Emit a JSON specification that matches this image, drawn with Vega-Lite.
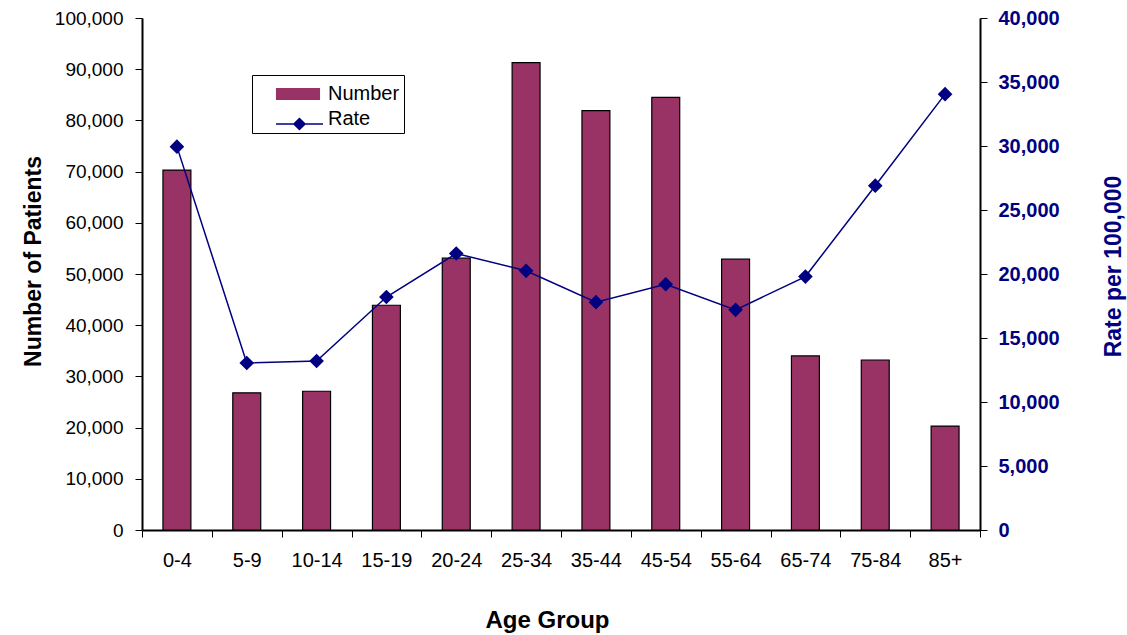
{
  "$schema": "https://vega.github.io/schema/vega-lite/v6.json",
  "width": 838,
  "height": 512,
  "autosize": {"type": "none"},
  "padding": {"left": 142, "top": 18, "right": 147, "bottom": 105},
  "background": "white",
  "config": {
    "view": {"stroke": null},
    "font": "Liberation Sans",
    "axis": {
      "grid": false,
      "domainColor": "black",
      "tickColor": "black",
      "labelColor": "black",
      "labelFont": "Liberation Sans",
      "titleFont": "Liberation Sans",
      "domainWidth": 2,
      "tickWidth": 1
    },
    "legend": {"labelFont": "Liberation Sans"}
  },
  "data": {
    "values": [
      {"age": "0-4", "number": 70300, "rate": 29950},
      {"age": "5-9", "number": 26800, "rate": 13050},
      {"age": "10-14", "number": 27100, "rate": 13200},
      {"age": "15-19", "number": 43900, "rate": 18200},
      {"age": "20-24", "number": 53100, "rate": 21600},
      {"age": "25-34", "number": 91300, "rate": 20250},
      {"age": "35-44", "number": 81900, "rate": 17800},
      {"age": "45-54", "number": 84500, "rate": 19200},
      {"age": "55-64", "number": 52900, "rate": 17200},
      {"age": "65-74", "number": 34000, "rate": 19800},
      {"age": "75-84", "number": 33200, "rate": 26900},
      {"age": "85+", "number": 20300, "rate": 34050}
    ]
  },
  "layer": [
    {
      "mark": {"type": "bar", "stroke": "black", "strokeWidth": 1.2, "width": {"band": 0.4}},
      "encoding": {
        "x": {
          "field": "age",
          "type": "ordinal",
          "sort": null,
          "scale": {"paddingInner": 0, "paddingOuter": 0},
          "axis": {
            "title": "Age Group",
            "labelAngle": 0,
            "labelFontSize": 20,
            "labelPadding": 13,
            "tickSize": 7,
            "tickBand": "extent",
            "titleFontSize": 24,
            "titleFontWeight": "bold",
            "titleX": 405,
            "titleY": 90,
            "titleAnchor": null,
            "titleAlign": "center",
            "titleBaseline": "middle"
          }
        },
        "y": {
          "field": "number",
          "type": "quantitative",
          "scale": {"domain": [0, 100000], "nice": false},
          "axis": {
            "title": "Number of Patients",
            "values": [0, 10000, 20000, 30000, 40000, 50000, 60000, 70000, 80000, 90000, 100000],
            "format": ",d",
            "labelFontSize": 19,
            "labelPadding": 12,
            "tickSize": 7,
            "titleFontSize": 23,
            "titleFontWeight": "bold",
            "titleAngle": -90,
            "titleX": -109,
            "titleY": 243,
            "titleAlign": "center",
            "titleBaseline": "middle"
          }
        },
        "fill": {
          "datum": "Number",
          "type": "nominal",
          "scale": {"domain": ["Number", "Rate"], "range": ["#993366", "rgba(0,0,0,0)"]},
          "legend": {
            "title": null,
            "orient": "none",
            "legendX": 110,
            "legendY": 57,
            "strokeColor": "black",
            "fillColor": null,
            "padding": 4,
            "symbolSize": 900,
            "symbolType": "M0.33,-0.4H3.27V0.4H0.33Z",
            "symbolStrokeWidth": 0,
            "symbolOpacity": 1,
            "rowPadding": -1,
            "labelFontSize": 20,
            "labelColor": "black",
            "labelOffset": 42,
            "labelExpr": "datum.label + '\u00a0\u00a0\u00a0'"
          }
        }
      }
    },
    {
      "mark": {
        "type": "line",
        "strokeWidth": 1.5,
        "point": {"filled": true, "shape": "diamond", "size": 140, "fill": "#000080"}
      },
      "encoding": {
        "x": {"field": "age", "type": "ordinal", "sort": null},
        "y": {
          "field": "rate",
          "type": "quantitative",
          "scale": {"domain": [0, 40000], "nice": false},
          "axis": {
            "orient": "right",
            "title": "Rate per 100,000",
            "values": [0, 5000, 10000, 15000, 20000, 25000, 30000, 35000, 40000],
            "format": ",d",
            "labelFontSize": 20,
            "labelFontWeight": "bold",
            "labelColor": "#000080",
            "labelPadding": 11,
            "tickSize": 7,
            "titleFontSize": 23,
            "titleFontWeight": "bold",
            "titleColor": "#000080",
            "titleAngle": -90,
            "titleX": 133,
            "titleY": 248,
            "titleAlign": "center",
            "titleBaseline": "middle"
          }
        },
        "stroke": {
          "datum": "Rate",
          "type": "nominal",
          "scale": {"domain": ["Rate"], "range": ["#000080"]},
          "legend": {
            "title": null,
            "orient": "none",
            "legendX": 110,
            "legendY": 86,
            "strokeColor": null,
            "fillColor": null,
            "padding": 4,
            "symbolSize": 900,
            "symbolType": "M0.27,0H3.4M1.83,-0.37L2.2,0L1.83,0.37L1.46,0Z",
            "symbolFillColor": "#000080",
            "symbolStrokeWidth": 1.5,
            "symbolOpacity": 1,
            "labelFontSize": 20,
            "labelColor": "black",
            "labelOffset": 42,
            "labelExpr": "''"
          }
        }
      }
    }
  ],
  "resolve": {"scale": {"y": "independent"}}
}
